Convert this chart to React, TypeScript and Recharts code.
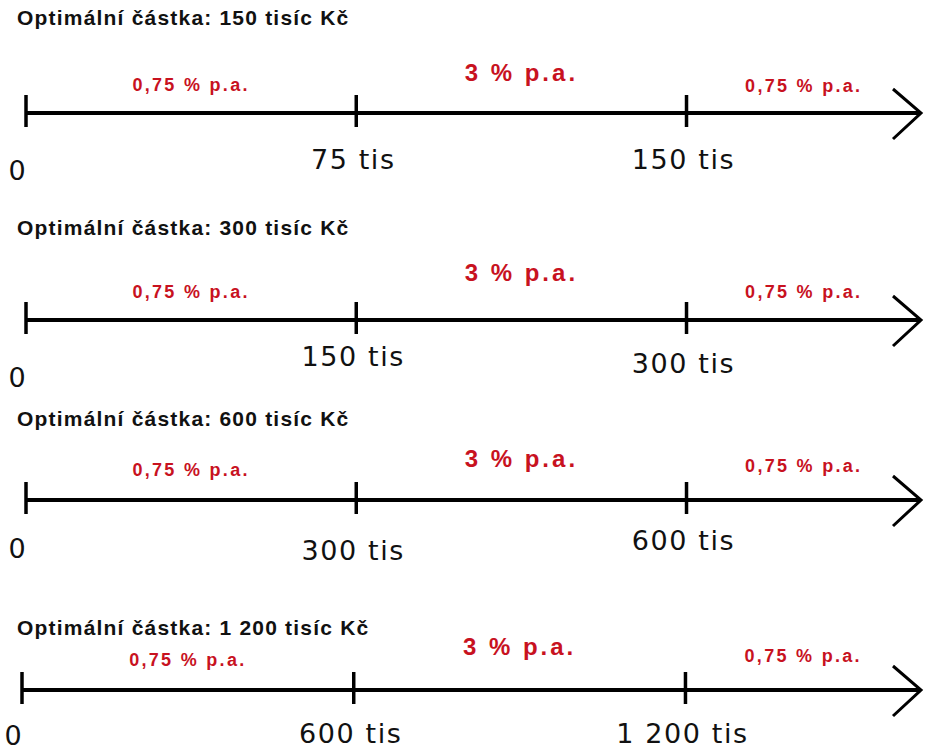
import { ComposedChart, Line, Scatter, XAxis, YAxis } from 'recharts'

// one row per number line
const titles = [
  'Optimální částka: 150 tisíc Kč',
  'Optimální částka: 300 tisíc Kč',
  'Optimální částka: 600 tisíc Kč',
  'Optimální částka: 1 200 tisíc Kč',
]
const tickValues = [
  [0, 75, 150],
  [0, 150, 300],
  [0, 300, 600],
  [0, 600, 1200],
]
const tickLabels = [
  ['0', '75 tis', '150 tis'],
  ['0', '150 tis', '300 tis'],
  ['0', '300 tis', '600 tis'],
  ['0', '600 tis', '1 200 tis'],
]
const rateLabels = ['0,75 % p.a.', '3 % p.a.', '0,75 % p.a.']

// layout only
const W = 925
const H = 160
const ARROW_FACTOR = 1.355
const lineY = [113, 320, 500, 690]
const titleY = [18, 228, 419, 628]
const leftX = [26, 26, 26, 22]
const tickLabelDy = [
  [57, 46, 46],
  [57, 36, 43],
  [48, 50, 40],
  [45, 43, 43],
]
const rateDy = [
  [-28, -41, -27],
  [-28, -48, -28],
  [-30, -42, -34],
  [-30, -44, -34],
]
const RED = '#c8121f'
const BOLD = '"Liberation Sans", Arial, sans-serif'
const PLAIN = '"DejaVu Sans", Verdana, sans-serif'

function NumberLine({ row }: { row: number }) {
  const ticks = tickValues[row]
  const end = ticks[ticks.length - 1] * ARROW_FACTOR
  const bounds = [...ticks, end]
  const axisData = [{ x: 0, y: 0 }, { x: end, y: 0 }]
  const tickData = ticks.map((v, i) => ({ x: v, y: 0, i, label: tickLabels[row][i] }))
  const rateData = rateLabels.map((label, i) => ({
    x: (bounds[i] + bounds[i + 1]) / 2,
    y: 0,
    i,
    label,
  }))

  return (
    <div style={{ position: 'absolute', left: 0, top: lineY[row] - H / 2 }}>
      <ComposedChart width={W} height={H} margin={{ top: 0, right: 4, bottom: 0, left: leftX[row] }}>
        <XAxis type="number" dataKey="x" domain={[0, end]} hide />
        <YAxis type="number" dataKey="y" domain={[-1, 1]} hide />
        <Line
          data={axisData}
          dataKey="y"
          stroke="#000"
          strokeWidth={4}
          isAnimationActive={false}
          dot={(p: any) =>
            p.index === axisData.length - 1 ? (
              <path
                key={`arrow-${p.index}`}
                d={`M${p.cx - 28},${p.cy - 24} L${p.cx},${p.cy} L${p.cx - 28},${p.cy + 26}`}
                stroke="#000"
                strokeWidth={3}
                fill="none"
              />
            ) : (
              <g key={`d-${p.index}`} />
            )
          }
          activeDot={false}
        />
        <Scatter
          data={tickData}
          isAnimationActive={false}
          shape={(p: any) => {
            const i = p.payload.i
            const dx = i === 0 ? -8 : -3
            return (
              <g>
                <line x1={p.cx} x2={p.cx} y1={p.cy - 18} y2={p.cy + 14} stroke="#000" strokeWidth={3.5} />
                <text
                  x={p.cx + dx}
                  y={p.cy + tickLabelDy[row][i]}
                  textAnchor="middle"
                  dominantBaseline="central"
                  fontFamily={PLAIN}
                  fontSize={27}
                  letterSpacing={1.6}
                  fill="#111"
                >
                  {p.payload.label}
                </text>
              </g>
            )
          }}
        />
        <Scatter
          data={rateData}
          isAnimationActive={false}
          shape={(p: any) => {
            const i = p.payload.i
            const big = i === 1
            return (
              <text
                x={p.cx}
                y={p.cy + rateDy[row][i]}
                textAnchor="middle"
                dominantBaseline="central"
                fontFamily={BOLD}
                fontWeight="bold"
                fontSize={big ? 24 : 18}
                letterSpacing={big ? 3 : 2.3}
                fill={RED}
              >
                {p.payload.label}
              </text>
            )
          }}
        />
      </ComposedChart>
    </div>
  )
}

export default function App() {
  return (
    <div
      style={{
        position: 'absolute',
        left: 0,
        top: 0,
        width: W,
        height: 749,
        overflow: 'hidden',
        background: '#fff',
      }}
    >
      {titles.map((t, row) => (
        <div
          key={t}
          style={{
            position: 'absolute',
            left: 17,
            top: titleY[row] - 12,
            fontFamily: BOLD,
            fontWeight: 'bold',
            fontSize: 21,
            letterSpacing: 1.2,
            lineHeight: '24px',
            color: '#111',
            whiteSpace: 'nowrap',
          }}
        >
          {t}
        </div>
      ))}
      {titles.map((t, row) => (
        <NumberLine key={`line-${t}`} row={row} />
      ))}
    </div>
  )
}
